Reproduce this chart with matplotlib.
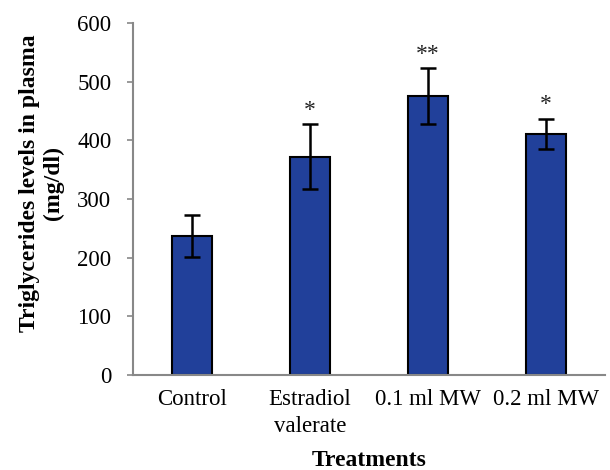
import matplotlib
matplotlib.use("Agg")
import matplotlib.pyplot as plt

plt.rcParams['font.family'] = ['Liberation Serif', 'DejaVu Serif']

categories = ["Control", "Estradiol\nvalerate", "0.1 ml MW", "0.2 ml MW"]
means = [237, 372, 475, 411]
errors = [36, 55, 48, 26]
marks = ["", "*", "**", "*"]

fig = plt.figure(figsize=(6.1, 4.7), dpi=100)
ax = fig.add_axes([133 / 610, 1 - 375 / 470, (605 - 133) / 610, (375 - 23) / 470])

x = list(range(len(categories)))
ax.bar(x, means, width=0.34, color="#21409A", edgecolor="black", linewidth=1.5,
       yerr=errors, error_kw=dict(ecolor="black", elinewidth=1.8, capsize=5.5, capthick=1.8))

for xi, m, e, s in zip(x, means, errors, marks):
    if s:
        ax.text(xi, m + e + 6, s, ha="center", va="bottom", fontsize=17, color="#222222")

ax.set_xlim(-0.5, 3.5)
ax.set_ylim(0, 600)
ax.set_yticks(range(0, 601, 100))
ax.set_xticks(x)
ax.set_xticklabels(categories, fontsize=16.5, linespacing=1.4)
ax.tick_params(axis="x", length=0, pad=10)
ax.tick_params(axis="y", labelsize=16.5, color="#888888", length=4.5, width=1.2, pad=11)

for side in ("top", "right"):
    ax.spines[side].set_visible(False)
for side in ("left", "bottom"):
    ax.spines[side].set_color("#888888")
    ax.spines[side].set_linewidth(1.5)

ax.set_ylabel("Triglycerides levels in plasma\n(mg/dl)", fontsize=17, fontweight="bold",
              linespacing=1.15)
ax.yaxis.set_label_coords(-0.146, 0.545)
ax.set_xlabel("Treatments", fontsize=17, fontweight="bold", labelpad=9)

fig.savefig("out.png", dpi=100)
